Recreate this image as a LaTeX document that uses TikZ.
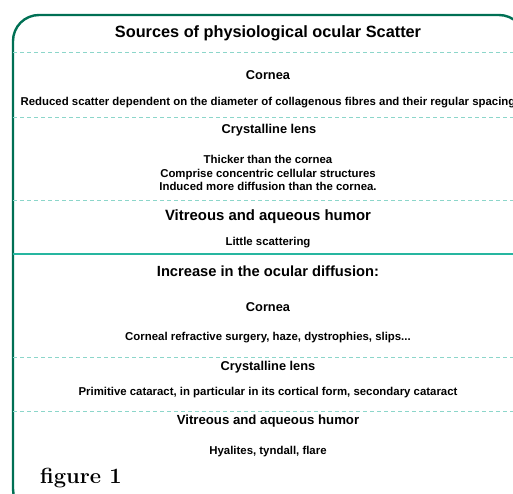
\documentclass[tikz,border=0pt]{standalone}
\usepackage{fontspec}
\newfontfamily\sansb{Liberation Sans}
\definecolor{framegreen}{RGB}{0,112,84}
\definecolor{lightteal}{RGB}{140,214,202}
\definecolor{midteal}{RGB}{38,182,160}
\begin{document}
\begin{tikzpicture}[
    x=1pt, y=-1pt,
    title/.style={font=\sansb\bfseries\fontsize{16.3}{19}\selectfont, inner sep=0pt},
    head/.style={font=\sansb\bfseries\fontsize{12.8}{15}\selectfont, inner sep=0pt},
    body/.style={font=\sansb\bfseries\fontsize{11.4}{13.5}\selectfont, inner sep=0pt, align=center},
    sep/.style={lightteal, line width=1pt, dash pattern=on 4pt off 3pt},
    bigsep/.style={midteal, line width=2pt},
    frame/.style={draw=framegreen, line width=2.4pt, rounded corners=26pt}
]
\path[use as bounding box] (0,0) rectangle (513,493);
\clip (0,0) rectangle (513,493);

% Outer frame
\draw[frame] (13,15) rectangle (525,515);

% Separators
\draw[sep] (13,52) -- (513,52);
\draw[sep] (13,117) -- (513,117);
\draw[sep] (13,200) -- (513,200);
\draw[bigsep] (13,254) -- (513,254);
\draw[sep] (13,357) -- (513,357);
\draw[sep] (13,411) -- (513,411);

% Physiological scatter
\node[title] (srctitle) at (268,33) {Sources of physiological ocular Scatter};
\node[head] (cornea) at (268,75) {Cornea};
\node[body] (corneatxt) at (268,103) {Reduced scatter dependent on the diameter of collagenous fibres and their regular spacing};
\node[head] (lens) at (269,130) {Crystalline lens};
\node[body] (lenstxt) at (268,173) {Thicker than the cornea\\Comprise concentric cellular structures\\Induced more diffusion than the cornea.};
\node[head, font=\sansb\bfseries\fontsize{14.9}{17}\selectfont] (humor) at (268,217) {Vitreous and aqueous humor};
\node[body] (humortxt) at (268,243) {Little scattering};

% Increased diffusion
\node[head, font=\sansb\bfseries\fontsize{14.7}{17}\selectfont] (inctitle) at (268,271) {Increase in the ocular diffusion:};
\node[head] (cornea2) at (268,307) {Cornea};
\node[body] (cornea2txt) at (268,338) {Corneal refractive surgery, haze, dystrophies, slips...};
\node[head] (lens2) at (268,367) {Crystalline lens};
\node[body] (lens2txt) at (268,393) {Primitive cataract, in particular in its cortical form, secondary cataract};
\node[head, font=\sansb\bfseries\fontsize{13.2}{16}\selectfont] (humor2) at (268,421) {Vitreous and aqueous humor};
\node[body] (humor2txt) at (268,452) {Hyalites, tyndall, flare};

% Caption
\node[font=\bfseries\fontsize{21.9}{26}\selectfont, anchor=base west, inner sep=0pt] (caption) at (40,483) {figure 1};
\end{tikzpicture}
\end{document}
